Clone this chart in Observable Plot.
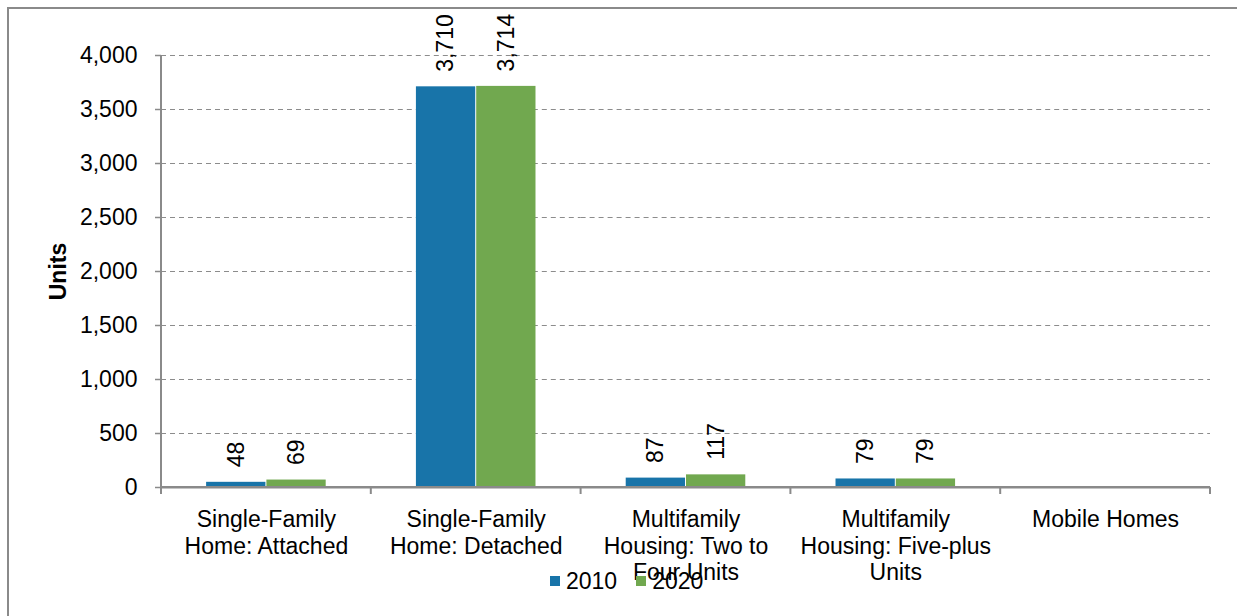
<!DOCTYPE html>
<html>
<head>
<meta charset="utf-8">
<script src="https://cdn.jsdelivr.net/npm/d3@7"></script>
<script src="https://cdn.jsdelivr.net/npm/@observablehq/plot@0.6"></script>
<style>
  html, body { margin: 0; padding: 0; background: #fff; }
  #wrap { position: relative; width: 1237px; height: 616px; overflow: hidden; font-family: 'Liberation Sans', Arial, sans-serif; }
  #border { position: absolute; left: 7px; top: 7px; width: 1300px; height: 700px; border-left: 2px solid #8a8a8a; border-top: 2px solid #8a8a8a; box-sizing: border-box; }
  #chart { position: absolute; left: 0; top: 0; }
  #legend { position: absolute; left: 550px; top: 567px; display: flex; align-items: center; font-size: 23px; color: #000; line-height: 28px; }
  #legend .item { display: flex; align-items: center; margin-right: 19px; }
  #legend .sw { width: 10px; height: 10px; margin-right: 6px; }
</style>
</head>
<body>
<div id="wrap">
  <div id="border"></div>
  <div id="chart"></div>
  <div id="legend"></div>
</div>
<script>
const categories = [
  "Single-Family Home: Attached",
  "Single-Family Home: Detached",
  "Multifamily Housing: Two to Four Units",
  "Multifamily Housing: Five-plus Units",
  "Mobile Homes"
];
const categoryLabels = [
  "Single-Family\nHome: Attached",
  "Single-Family\nHome: Detached",
  "Multifamily\nHousing: Two to\nFour Units",
  "Multifamily\nHousing: Five-plus\nUnits",
  "Mobile Homes"
];
const years = ["2010", "2020"];
const units2010 = [48, 3710, 87, 79, null];
const units2020 = [69, 3714, 117, 79, null];
const yTicks = [0, 500, 1000, 1500, 2000, 2500, 3000, 3500, 4000];
const colors = ["#1874a9", "#71a84f"];

const data = [];
categories.forEach((c, i) => {
  data.push({category: c, year: years[0], value: units2010[i]});
  data.push({category: c, year: years[1], value: units2020[i]});
});

const fmt = d3.format(",");
const axisGray = "#8a8a8a";

const plot = Plot.plot({
  width: 1237,
  height: 616,
  marginLeft: 161,
  marginRight: 27,
  marginTop: 55,
  marginBottom: 129,
  style: {fontFamily: "'Liberation Sans', Arial, sans-serif", fontSize: "23px", color: "#000", background: "transparent", overflow: "visible"},
  fx: {domain: categories, padding: 0, round: false, axis: null, label: null},
  x: {domain: years, paddingInner: 0, paddingOuter: 0.74, round: false, axis: null, label: null},
  y: {domain: [0, 4000], axis: null, label: null},
  color: {domain: years, range: colors},
  marks: [
    Plot.gridY(yTicks.filter(d => d > 0), {stroke: "#8c8c8c", strokeOpacity: 1, strokeDasharray: "5,4", strokeWidth: 1}),
    Plot.axisY(yTicks, {tickFormat: fmt, tickSize: 6, tickPadding: 18, stroke: axisGray, strokeWidth: 1.5, fill: "#000", label: null}),
    Plot.axisFx({anchor: "bottom", tickSize: 0, tickPadding: 20, lineHeight: 1.17, fill: "#000", label: null,
      tickFormat: d => categoryLabels[categories.indexOf(d)]}),
    Plot.barY(data, {fx: "category", x: "year", y: "value", fill: "year", insetLeft: 0.5, insetRight: 0.5}),
    Plot.text(data, {filter: d => d.value != null, fx: "category", x: "year", y: "value", text: d => fmt(d.value),
      rotate: -90, textAnchor: "start", lineAnchor: "middle", dy: -15, fill: "#000"}),
    Plot.ruleY([0], {stroke: axisGray, strokeWidth: 2}),
    Plot.text(["Units"], {fx: [categories[0]], frameAnchor: "left", rotate: -90, dx: -103,
      fontWeight: "bold", fill: "#000", textAnchor: "middle", lineAnchor: "middle"})
  ]
});

// axis line and category boundary ticks drawn from the plot's own scales
try {
  const fxs = plot.scale("fx");
  const ys = plot.scale("y");
  const yS = d3.scaleLinear(ys.domain, ys.range);
  const r0 = fxs.range[0], r1 = fxs.range[1];
  const step = (r1 - r0) / categories.length;
  const g = d3.select(plot).append("g").attr("stroke", axisGray);
  g.append("line").attr("x1", r0).attr("x2", r0).attr("y1", yS(4000)).attr("y2", yS(0)).attr("stroke-width", 2);
  g.append("line").attr("x1", r0).attr("x2", r1).attr("y1", yS(0)).attr("y2", yS(0)).attr("stroke-width", 2);
  d3.range(categories.length + 1).forEach(i => {
    const x = r0 + i * step;
    g.append("line").attr("x1", x).attr("x2", x).attr("y1", yS(0)).attr("y2", yS(0) + 7).attr("stroke-width", 2);
  });
} catch (e) { console.error(e); }

document.getElementById("chart").appendChild(plot);

const legend = d3.select("#legend");
years.forEach((y, i) => {
  const item = legend.append("div").attr("class", "item");
  item.append("div").attr("class", "sw").style("background", colors[i]);
  item.append("span").text(y);
});
</script>
</body>
</html>
